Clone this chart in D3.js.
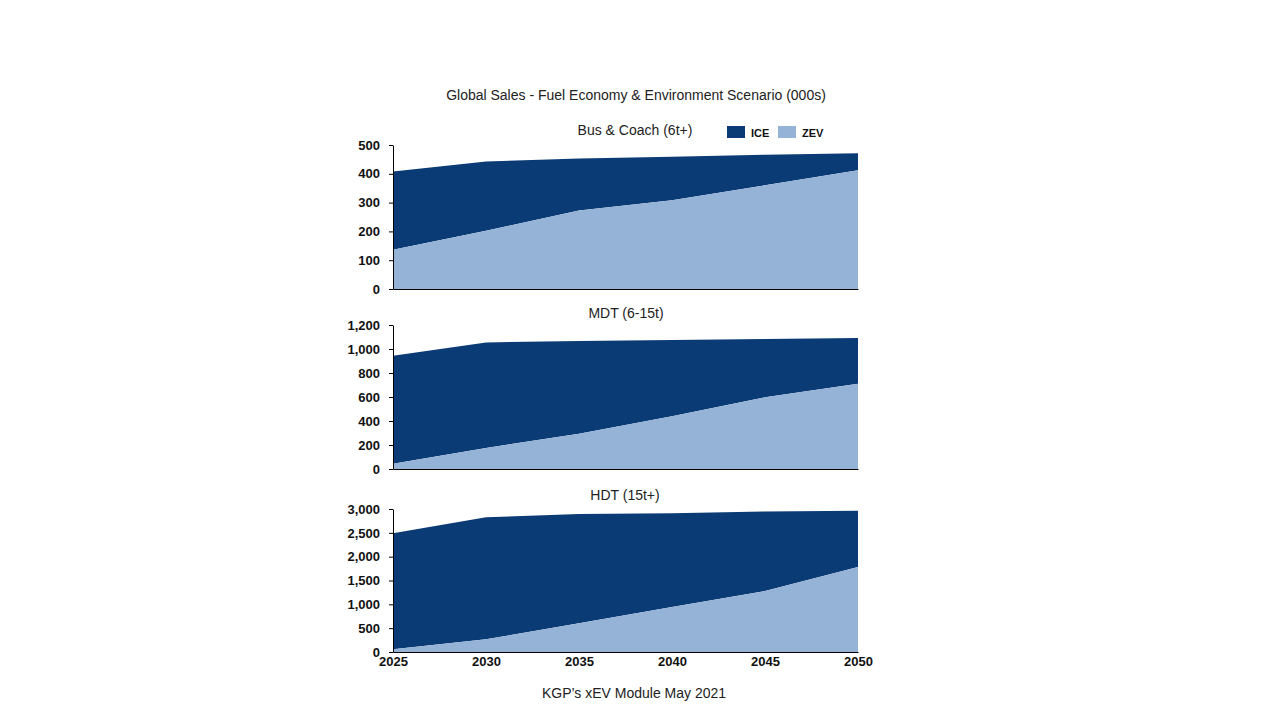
<!DOCTYPE html>
<html>
<head>
<meta charset="utf-8">
<script src="https://cdn.jsdelivr.net/npm/d3@7"></script>
<style>
  body { margin: 0; background: #fff; }
  text { font-family: "Liberation Sans", Arial, sans-serif; }
</style>
</head>
<body>
<div id="chart"></div>
<script>
// data (000s)
const years = [2025, 2030, 2035, 2040, 2045, 2050];
const busTotal = [408, 443, 453, 459, 466, 471];
const busZev   = [136, 202, 273, 308, 360, 412];
const mdtTotal = [944, 1055, 1067, 1075, 1083, 1092];
const mdtZev   = [44, 175, 294, 439, 597, 711];
const hdtTotal = [2490, 2825, 2895, 2910, 2950, 2965];
const hdtZev   = [56, 266, 601, 944, 1280, 1783];

const panels = [
  { title: "Bus & Coach (6t+)", total: busTotal, zev: busZev, max: 500, step: 100, top: 145, bottom: 289, tx: 635, ty: 135 },
  { title: "MDT (6-15t)", total: mdtTotal, zev: mdtZev, max: 1200, step: 200, top: 325, bottom: 469, tx: 626, ty: 318 },
  { title: "HDT (15t+)", total: hdtTotal, zev: hdtZev, max: 3000, step: 500, top: 509, bottom: 652, tx: 625, ty: 500 }
];

const ICE_COLOR = "#0b3b75";
const ZEV_COLOR = "#95b3d7";
const TICK_FONT = '"Liberation Sans", Arial, sans-serif';

const svg = d3.select("#chart").append("svg")
    .attr("width", 1280)
    .attr("height", 720);

const x = d3.scaleLinear().domain([2025, 2050]).range([393, 858]);

svg.append("text")
    .attr("x", 636).attr("y", 100)
    .attr("text-anchor", "middle")
    .attr("font-size", 14)
    .attr("fill", "#222")
    .text("Global Sales - Fuel Economy & Environment Scenario (000s)");

panels.forEach((p, i) => {
    const y = d3.scaleLinear().domain([0, p.max]).range([p.bottom, p.top]);
    const g = svg.append("g");

    const iceArea = d3.area()
        .x((d, j) => x(years[j]))
        .y0((d, j) => y(p.zev[j]))
        .y1(d => y(d));
    const zevArea = d3.area()
        .x((d, j) => x(years[j]))
        .y0(y(0))
        .y1(d => y(d));

    g.append("path").datum(p.total).attr("d", iceArea).attr("fill", ICE_COLOR);
    g.append("path").datum(p.zev).attr("d", zevArea).attr("fill", ZEV_COLOR);

    // y axis
    const yAxis = g.append("g")
        .attr("transform", "translate(393,0)")
        .call(d3.axisLeft(y).tickValues(d3.range(0, p.max + 1, p.step)).tickSizeInner(4).tickSizeOuter(0).tickPadding(9).tickFormat(d3.format(",")));
    yAxis.select(".domain").attr("stroke", "#000");
    yAxis.selectAll("line").attr("stroke", "#000");
    yAxis.selectAll("text").attr("font-size", 13).attr("font-weight", "bold").attr("fill", "#111")
        .attr("font-family", TICK_FONT);

    // x axis
    const xAxis = g.append("g")
        .attr("transform", `translate(0,${p.bottom})`)
        .call(d3.axisBottom(x).tickValues(years).tickSize(0).tickPadding(5).tickFormat(i === 2 ? d3.format("d") : ""));
    xAxis.select(".domain").attr("stroke", "#000");
    xAxis.selectAll("text").attr("font-size", 13).attr("font-weight", "bold").attr("fill", "#111")
        .attr("font-family", TICK_FONT);

    svg.append("text")
        .attr("x", p.tx).attr("y", p.ty)
        .attr("text-anchor", "middle")
        .attr("font-size", 14)
        .attr("fill", "#222")
        .text(p.title);
});

// legend
const legend = [{ name: "ICE", color: ICE_COLOR, x: 727 }, { name: "ZEV", color: ZEV_COLOR, x: 778 }];
legend.forEach(l => {
    svg.append("rect").attr("x", l.x).attr("y", 126).attr("width", 18).attr("height", 12).attr("fill", l.color);
    svg.append("text").attr("x", l.x + 24).attr("y", 137)
        .attr("font-size", 11).attr("font-weight", "bold").attr("fill", "#111")
        .attr("font-family", TICK_FONT)
        .text(l.name);
});

svg.append("text")
    .attr("x", 634).attr("y", 698)
    .attr("text-anchor", "middle")
    .attr("font-size", 14)
    .attr("fill", "#222")
    .text("KGP’s xEV Module May 2021");
</script>
</body>
</html>
